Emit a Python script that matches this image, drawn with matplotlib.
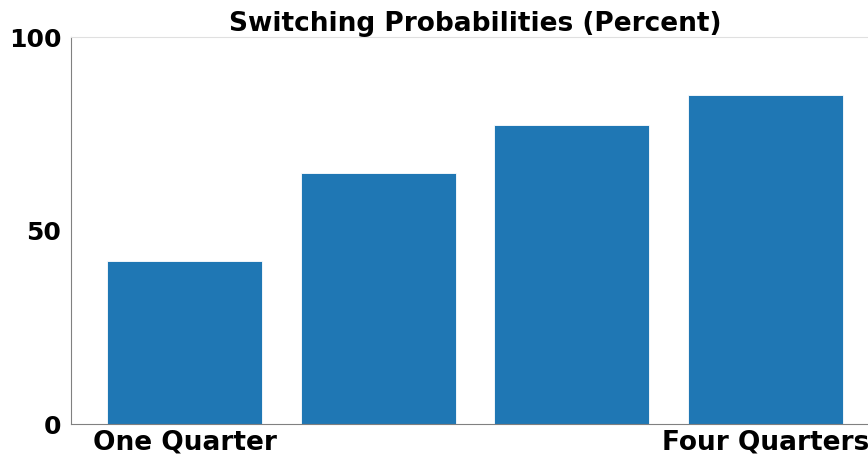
import matplotlib.pyplot as plt

# Switching probabilities by horizon
horizons = ["One Quarter", "Two Quarters", "Three Quarters", "Four Quarters"]
tick_labels = ["One Quarter", "", "", "Four Quarters"]
probabilities = [42.1, 64.9, 77.2, 85.0]

fig = plt.figure(figsize=(8.68, 4.55), dpi=100)
ax = fig.add_axes([0.0818, 0.0681, 0.931, 0.8505])

ax.bar(range(len(horizons)), probabilities, width=0.8, color="#1f77b4",
       edgecolor="white", linewidth=0.6)

ax.set_xlim(-0.586, 3.586)
ax.set_ylim(0, 100)
ax.set_yticks([0, 50, 100])
ax.set_xticks(range(len(horizons)))
ax.set_xticklabels(tick_labels)

for lab in ax.get_yticklabels():
    lab.set_fontsize(18)
    lab.set_fontweight("bold")
for lab in ax.get_xticklabels():
    lab.set_fontsize(19)
    lab.set_fontweight("bold")
ax.tick_params(axis="both", length=0)
ax.tick_params(axis="y", pad=7)
ax.tick_params(axis="x", pad=4)

ax.spines["left"].set_color("#808080")
ax.spines["bottom"].set_color("#808080")
ax.spines["top"].set_color("#e0e0e0")
ax.spines["right"].set_color("#e0e0e0")

ax.set_title("Switching Probabilities (Percent)", fontsize=19, fontweight="bold", pad=3)

fig.savefig("out.png", dpi=100)
